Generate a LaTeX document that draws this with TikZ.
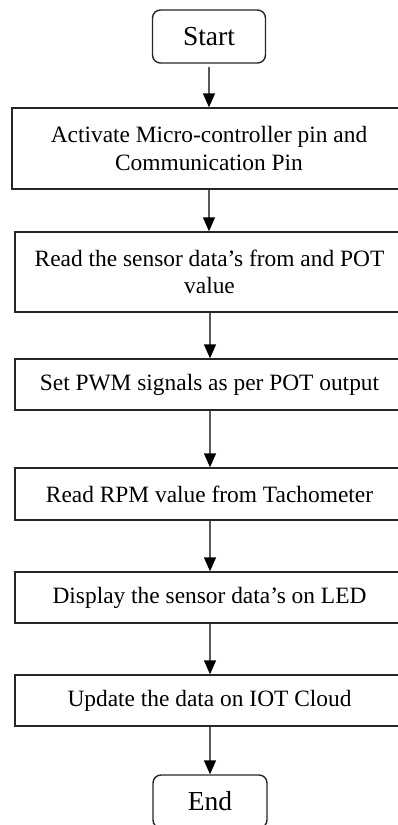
\documentclass[tikz,border=0pt]{standalone}
\usepackage{fontspec}
\setmainfont{Liberation Serif}
\usetikzlibrary{arrows.meta}

\tikzset{
  stepbox/.style={draw=black!85, line width=1.4pt, rectangle, align=center,
    inner sep=2pt, font=\fontsize{23.4}{27.5}\selectfont},
  termbox/.style={stepbox, rounded corners=8pt, minimum width=113pt, minimum height=53pt,
    font=\fontsize{27.5}{30}\selectfont},
  flow/.style={draw=black!65, line width=1.6pt,
    -{Triangle[width=12pt,length=14pt,color=black]}},
}

\begin{document}
\begin{tikzpicture}[x=1pt,y=-1pt]
  \useasboundingbox (0,0) rectangle (398,825);
  \clip (0,0) rectangle (398,825);

  \node[termbox] (start) at (209,36.5) {Start};
  \node[stepbox, minimum width=394pt, minimum height=81pt] (init) at (209,148.5)
    {Activate Micro-controller pin and\\Communication Pin};
  \node[stepbox, minimum width=389pt, minimum height=80pt] (sense) at (209.5,272)
    {Read the sensor data’s from and POT\\value};
  \node[stepbox, minimum width=389pt, minimum height=51pt] (pwm) at (209.5,384.5)
    {Set PWM signals as per POT output};
  \node[stepbox, minimum width=389pt, minimum height=52pt] (rpm) at (209.5,494)
    {Read RPM value from Tachometer};
  \node[stepbox, minimum width=389pt, minimum height=51pt] (disp) at (209.5,597.5)
    {Display the sensor data’s on LED};
  \node[stepbox, minimum width=389pt, minimum height=51pt] (cloud) at (209.5,700.5)
    {Update the data on IOT Cloud};
  \node[termbox, minimum width=114pt] (finish) at (210,801.5) {End};

  \draw[flow, shorten <=3pt] (start.south) -- (start.south |- init.north);
  \draw[flow] (init.south -| start.south) -- (start.south |- sense.north);
  \draw[flow] (sense.south -| finish.north) -- (finish.north |- pwm.north);
  \draw[flow] (pwm.south -| finish.north) -- (finish.north |- rpm.north);
  \draw[flow] (rpm.south -| finish.north) -- (finish.north |- disp.north);
  \draw[flow] (disp.south -| finish.north) -- (finish.north |- cloud.north);
  \draw[flow] (cloud.south -| finish.north) -- (finish.north);
\end{tikzpicture}
\end{document}
